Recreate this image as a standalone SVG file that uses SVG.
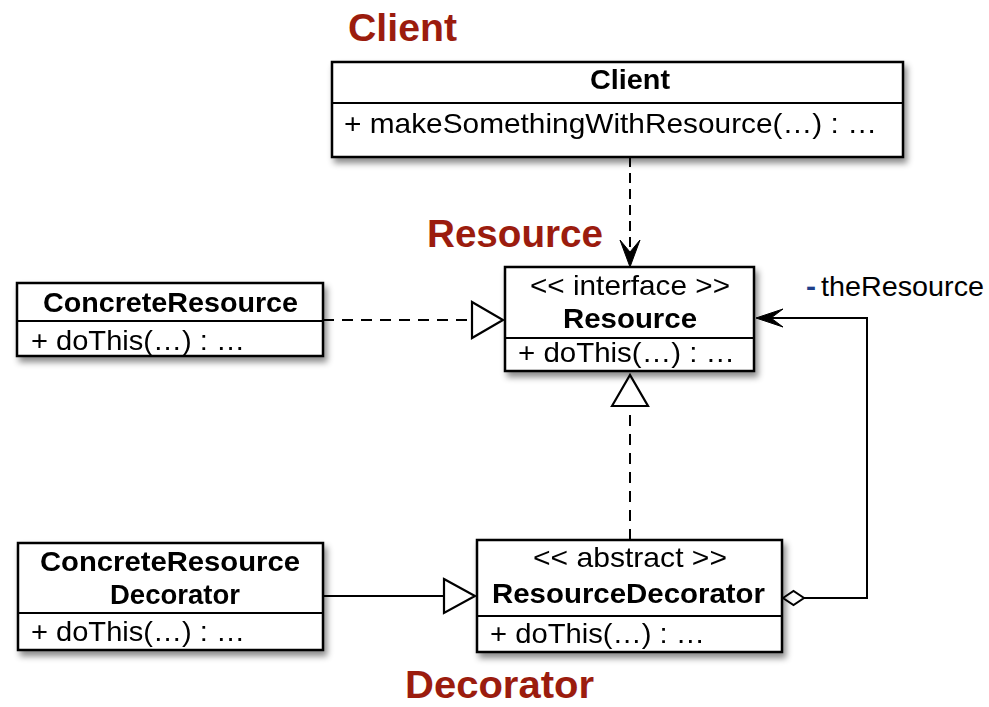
<svg xmlns="http://www.w3.org/2000/svg" width="989" height="707" viewBox="0 0 989 707">
<defs>
<filter id="sh" x="-10%" y="-10%" width="130%" height="140%">
<feDropShadow dx="3" dy="5" stdDeviation="3" flood-color="#000" flood-opacity="0.45"/>
</filter>
<style>
.box{fill:#fff;stroke:#000;stroke-width:2.5}
.div{stroke:#000;stroke-width:2}
.t{font-family:"Liberation Sans",Arial,sans-serif;font-size:28px;fill:#000}
.b{font-weight:bold}
.red{font-family:"Liberation Sans",Arial,sans-serif;font-size:38px;font-weight:bold;fill:#9b1c0e}
.ln{fill:none;stroke:#000;stroke-width:2}
.dash{stroke-dasharray:11,8}
.tri{fill:#fff;stroke:#000;stroke-width:2.2}
.head{fill:#000;stroke:#000;stroke-width:1}
</style>
</defs>

<text class="red" x="348" y="41" textLength="109" lengthAdjust="spacingAndGlyphs">Client</text>
<text class="red" x="427" y="247" textLength="176" lengthAdjust="spacingAndGlyphs">Resource</text>
<text class="red" x="405" y="698" textLength="189" lengthAdjust="spacingAndGlyphs">Decorator</text>

<g id="connectors">
<path class="ln" d="M630,157 V258" style="stroke-dasharray:10,6"/>
<path class="head" d="M630,267 L620,240 L630,252 L640,240 Z"/>
<path class="ln dash" d="M323,320 H472"/>
<path class="tri" d="M472,302 L503,320 L472,338 Z"/>
<path class="ln dash" d="M630,540 V406"/>
<path class="tri" d="M612,406 L630,375 L648,406 Z"/>
<path class="ln" d="M323,596 H444"/>
<path class="tri" d="M444,579 L475,596 L444,613 Z"/>
<path class="ln" d="M804,598 H867 V318 H765"/>
<path class="head" d="M756,318 L783,309 L771,318 L783,327 Z"/>
<path class="tri" d="M783,598 L793.5,591 L804,598 L793.5,605 Z" style="stroke-width:2"/>
<text class="t" x="806" y="296"><tspan fill="#1f3f8a" font-weight="bold" textLength="10" lengthAdjust="spacingAndGlyphs">-</tspan><tspan x="821" textLength="163" lengthAdjust="spacingAndGlyphs">theResource</tspan></text>
</g>

<g id="client" filter="url(#sh)">
<rect class="box" x="332" y="62" width="571" height="95"/>
<line class="div" x1="332" y1="103" x2="903" y2="103"/>
<text class="t b" x="630" y="89" text-anchor="middle" textLength="80" lengthAdjust="spacingAndGlyphs">Client</text>
<text class="t" x="344" y="133" textLength="533" lengthAdjust="spacingAndGlyphs">+ makeSomethingWithResource(…) : …</text>
</g>

<g id="resource" filter="url(#sh)">
<rect class="box" x="505" y="267" width="249" height="104"/>
<line class="div" x1="505" y1="338" x2="754" y2="338"/>
<text class="t" x="530" y="295" textLength="200" lengthAdjust="spacingAndGlyphs">&lt;&lt; interface &gt;&gt;</text>
<text class="t b" x="563" y="328" textLength="134" lengthAdjust="spacingAndGlyphs">Resource</text>
<text class="t" x="518" y="362" textLength="217" lengthAdjust="spacingAndGlyphs">+ doThis(…) : …</text>
</g>

<g id="concreteResource" filter="url(#sh)">
<rect class="box" x="17" y="283" width="306" height="73"/>
<line class="div" x1="17" y1="321" x2="323" y2="321"/>
<text class="t b" x="43" y="312" textLength="255" lengthAdjust="spacingAndGlyphs">ConcreteResource</text>
<text class="t" x="31" y="350" textLength="214" lengthAdjust="spacingAndGlyphs">+ doThis(…) : …</text>
</g>

<g id="concreteResourceDecorator" filter="url(#sh)">
<rect class="box" x="18" y="543" width="305" height="107"/>
<line class="div" x1="18" y1="613" x2="323" y2="613"/>
<text class="t b" x="40" y="571" textLength="260" lengthAdjust="spacingAndGlyphs">ConcreteResource</text>
<text class="t b" x="110" y="604" textLength="130" lengthAdjust="spacingAndGlyphs">Decorator</text>
<text class="t" x="31" y="641" textLength="214" lengthAdjust="spacingAndGlyphs">+ doThis(…) : …</text>
</g>

<g id="resourceDecorator" filter="url(#sh)">
<rect class="box" x="477" y="540" width="305" height="112"/>
<line class="div" x1="477" y1="616" x2="782" y2="616"/>
<text class="t" x="533" y="567" textLength="194" lengthAdjust="spacingAndGlyphs">&lt;&lt; abstract &gt;&gt;</text>
<text class="t b" x="492" y="603" textLength="273" lengthAdjust="spacingAndGlyphs">ResourceDecorator</text>
<text class="t" x="490" y="643" textLength="215" lengthAdjust="spacingAndGlyphs">+ doThis(…) : …</text>
</g>
</svg>
